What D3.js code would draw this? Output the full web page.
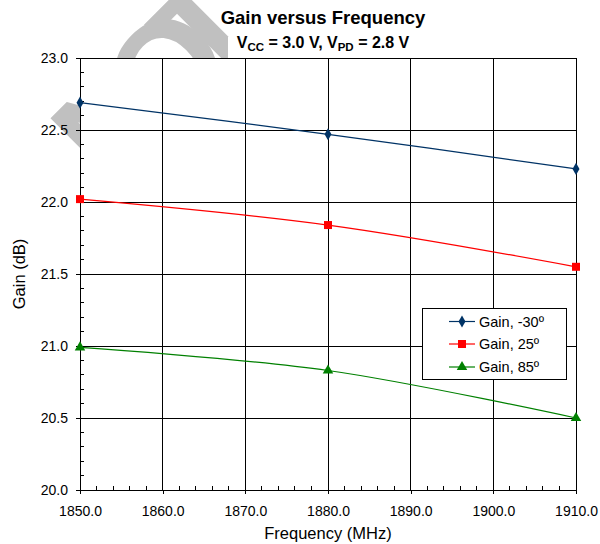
<!DOCTYPE html>
<html><head><meta charset="utf-8">
<script src="https://cdn.jsdelivr.net/npm/d3@7"></script>
<style>
html,body{margin:0;padding:0;background:#fff;}
svg{display:block;font-family:"Liberation Sans",Arial,sans-serif;}
</style></head>
<body><svg id="c" width="600" height="544"></svg>
<script>
const freqs = [1850, 1880, 1910];
const gainM30 = [22.69, 22.47, 22.23];
const gain25 = [22.02, 21.84, 21.55];
const gain85 = [20.99, 20.83, 20.50];
const seriesNames = ["Gain, -30º", "Gain, 25º", "Gain, 85º"];
const xTicks = [1850, 1860, 1870, 1880, 1890, 1900, 1910];
const yTicks = [20.0, 20.5, 21.0, 21.5, 22.0, 22.5, 23.0];

const svg = d3.select("#c");
const L = 80, R = 576, T = 58, B = 490;
const x = d3.scaleLinear().domain([1850, 1910]).range([L, R]);
const y = d3.scaleLinear().domain([20, 23]).range([B, T]);
const FONT = "Liberation Sans, Arial, sans-serif";

// watermark (mostly hidden behind the plot area)
const wm = svg.append("text").attr("transform", "translate(112,193) rotate(-45)")
  .attr("font-size", 140).attr("font-weight", "bold").attr("fill", "#c0c0c0");
wm.append("tspan").text("N");
wm.append("tspan").attr("dx", -30).text("O");
wm.append("tspan").attr("dx", -40).text("T");

// subtitle box and plot area
svg.append("rect").attr("x", 228).attr("y", 37).attr("width", 190).attr("height", 21).attr("fill", "#fff");
svg.append("rect").attr("x", L).attr("y", T).attr("width", R - L).attr("height", B - T).attr("fill", "#fff");

// gridlines
const g = svg.append("g").attr("shape-rendering", "crispEdges");
g.selectAll(".vg").data(xTicks).join("line")
  .attr("x1", d => x(d)).attr("x2", d => x(d)).attr("y1", T).attr("y2", B).attr("stroke", "#000");
g.selectAll(".hg").data(yTicks).join("line")
  .attr("x1", L).attr("x2", R).attr("y1", d => y(d)).attr("y2", d => y(d)).attr("stroke", "#000");

// axes
const xAxis = d3.axisBottom(x).tickValues(xTicks).tickFormat(d3.format(".1f")).tickSize(4).tickPadding(12);
const xa = svg.append("g").attr("transform", `translate(0,${B})`).call(xAxis);
const yAxis = d3.axisLeft(y).tickValues(yTicks).tickFormat(d3.format(".1f")).tickSize(4).tickPadding(8);
const ya = svg.append("g").attr("transform", `translate(${L},0)`).call(yAxis);
[xa, ya].forEach(a => {
  a.attr("shape-rendering", "crispEdges");
  a.selectAll("text").attr("font-size", 14).attr("font-family", FONT).attr("fill", "#000");
  a.select(".domain").attr("stroke", "#000");
  a.selectAll(".tick line").attr("stroke", "#000");
});
// minor ticks
const xMinor = d3.range(1850, 1910.01, 2).filter(d => !xTicks.includes(d));
svg.append("g").attr("shape-rendering", "crispEdges").selectAll("line").data(xMinor).join("line")
  .attr("x1", d => x(d)).attr("x2", d => x(d)).attr("y1", B - 4).attr("y2", B).attr("stroke", "#000");
const yMinor = d3.range(20, 23.001, 0.1).filter(d => Math.abs(d * 2 - Math.round(d * 2)) > 0.01);
svg.append("g").attr("shape-rendering", "crispEdges").selectAll("line").data(yMinor).join("line")
  .attr("x1", L).attr("x2", L + 4).attr("y1", d => y(d)).attr("y2", d => y(d)).attr("stroke", "#000");

// series
const series = [
  {vals: gainM30, color: "#003366", shape: d3.symbolDiamond, size: 42},
  {vals: gain25, color: "#ff0000", shape: d3.symbolSquare, size: 64},
  {vals: gain85, color: "#008000", shape: d3.symbolTriangle, size: 48},
];
const line = d3.line().x(d => x(d[0])).y(d => y(d[1])).curve(d3.curveCatmullRom.alpha(0.5));
series.forEach(s => {
  const pts = freqs.map((f, i) => [f, s.vals[i]]);
  svg.append("path").attr("d", line(pts)).attr("fill", "none").attr("stroke", s.color).attr("stroke-width", 1.2);
  svg.append("g").selectAll("path").data(pts).join("path")
    .attr("transform", d => `translate(${x(d[0])},${y(d[1])})`)
    .attr("d", d3.symbol().type(s.shape).size(s.size)).attr("fill", s.color);
});

// legend
const lg = svg.append("g");
lg.append("rect").attr("x", 422.5).attr("y", 308.5).attr("width", 144).attr("height", 71)
  .attr("fill", "#fff").attr("stroke", "#000");
const rowY = [321.5, 344, 367];
series.forEach((s, i) => {
  lg.append("line").attr("x1", 449).attr("x2", 475).attr("y1", rowY[i]).attr("y2", rowY[i]).attr("stroke", s.color).attr("stroke-width", 1.2);
  lg.append("path").attr("transform", `translate(462,${rowY[i]})`).attr("d", d3.symbol().type(s.shape).size(s.size)).attr("fill", s.color);
  lg.append("text").attr("x", 479).attr("y", rowY[i] + 5).attr("font-size", 14.5).text(seriesNames[i]);
});

// titles
svg.append("text").attr("x", 323).attr("y", 24).attr("text-anchor", "middle")
  .attr("font-size", 18.5).attr("font-weight", "bold").text("Gain versus Frequency");
const st = svg.append("text").attr("x", 323).attr("y", 48).attr("text-anchor", "middle")
  .attr("font-size", 16).attr("font-weight", "bold");
st.append("tspan").text("V");
st.append("tspan").attr("font-size", 11.5).attr("dy", 3).text("CC");
st.append("tspan").attr("dy", -3).text(" = 3.0 V, V");
st.append("tspan").attr("font-size", 11.5).attr("dy", 3).text("PD");
st.append("tspan").attr("dy", -3).text(" = 2.8 V");

svg.append("text").attr("x", 328).attr("y", 539).attr("text-anchor", "middle").attr("font-size", 16.5).text("Frequency (MHz)");
svg.append("text").attr("transform", "translate(25,274) rotate(-90)").attr("text-anchor", "middle").attr("font-size", 16.5).text("Gain (dB)");
</script></body></html>
